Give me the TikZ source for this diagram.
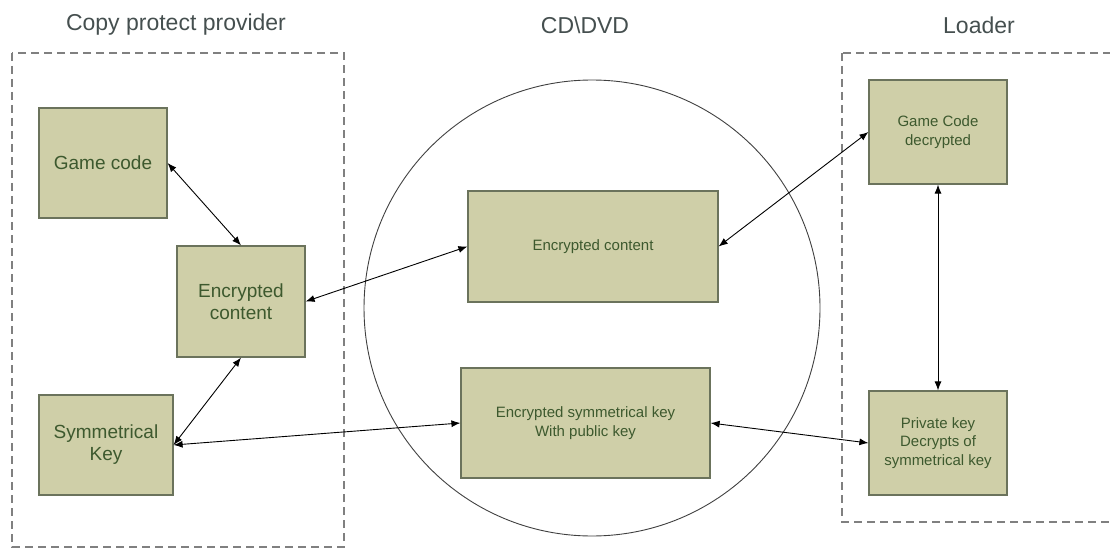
\documentclass[tikz,border=0pt]{standalone}
\usepackage{fontspec}
\setmainfont{Liberation Sans}
\usetikzlibrary{arrows.meta}
\definecolor{khaki}{rgb}{0.81, 0.81, 0.66}
\definecolor{olive}{rgb}{0.42, 0.45, 0.36}
\definecolor{leaf}{rgb}{0.24, 0.35, 0.18}
\definecolor{slate}{rgb}{0.27, 0.31, 0.31}
\tikzset{box/.style = {draw = olive, fill = khaki, text = leaf, line width = 1.2pt, inner sep = 0, align = center}}
\tikzset{bigtext/.style = {font = \fontsize{19}{22}\selectfont}}
\tikzset{smalltext/.style = {font = \fontsize{15}{18.5}\selectfont}}
\tikzset{link/.style = {>={Latex[length = 9pt, width = 7pt]}, <->, line width = 0.9pt}}
\tikzset{frame/.style = {draw = gray, line width = 1.3pt, dash pattern = on 8pt off 5pt}}
\tikzset{title/.style = {text = slate, font = \fontsize{23}{27}\selectfont}}

\begin{document}
\begin{tikzpicture}[x = 1pt, y = -1pt]
    \useasboundingbox (0, 0) rectangle (1110, 548);

    % the three areas
    \node [title] (provider) at (176, 25) {Copy protect provider};
    \node [title] (disc) at (585, 25) {CD\textbackslash DVD};
    \node [title] (loader) at (979, 25) {Loader};

    \draw [frame] (12, 53) rectangle (344, 547);
    \draw [frame] (842, 53) rectangle (1125, 522);
    \draw [draw = darkgray, line width = 0.9pt] (592, 308) circle (228pt);

    % provider side
    \node [box, bigtext, minimum width = 128, minimum height = 110] (gamecode) at (103, 163) {Game code};
    \node [box, bigtext, minimum width = 128, minimum height = 111] (enccontent) at (241, 301.5) {Encrypted\\content};
    \node [box, bigtext, minimum width = 134, minimum height = 100] (symkey) at (106, 445) {Symmetrical\\Key};

    % on the disc
    \node [box, smalltext, minimum width = 250, minimum height = 111] (disccontent) at (593, 246.5) {Encrypted content};
    \node [box, smalltext, minimum width = 249, minimum height = 110] (disckey) at (585.5, 423) {Encrypted symmetrical key\\With public key};

    % loader side
    \node [box, smalltext, minimum width = 138, minimum height = 104] (decrypted) at (938, 132) {Game Code\\decrypted};
    \node [box, smalltext, minimum width = 138, minimum height = 104] (privkey) at (938, 443) {Private key\\Decrypts of\\symmetrical key};

    \draw [link] (gamecode.east) -- (enccontent.north);
    \draw [link] (enccontent.east) -- (disccontent.west);
    \draw [link] (enccontent.south) -- (symkey.east);
    \draw [link] (symkey.east) -- (disckey.west);
    \draw [link] (disckey.east) -- (privkey.west);
    \draw [link] (disccontent.east) -- (decrypted.west);
    \draw [link] (decrypted.south) -- (privkey.north);
\end{tikzpicture}
\end{document}
